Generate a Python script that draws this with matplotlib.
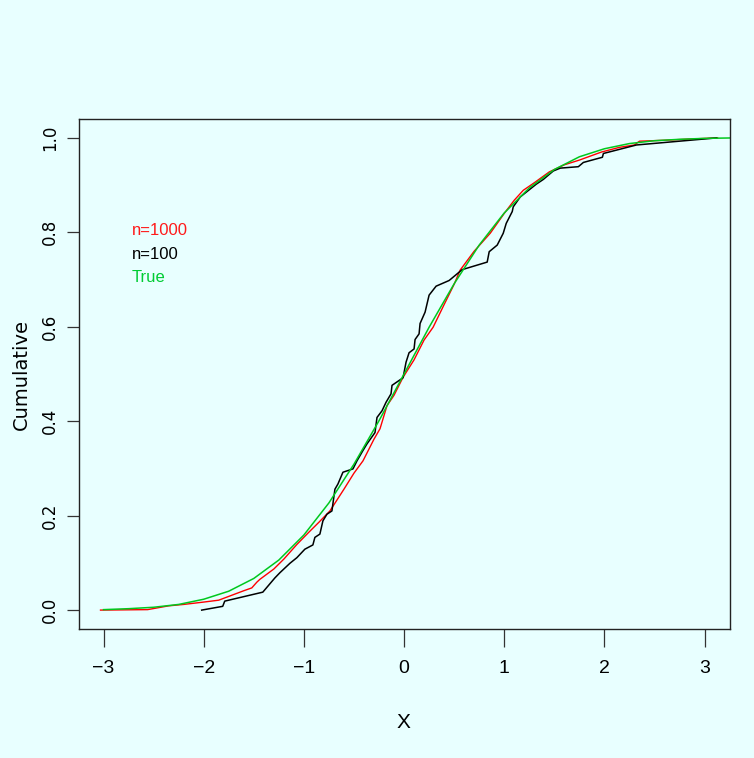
import numpy as np
import matplotlib
matplotlib.use("Agg")
import matplotlib.pyplot as plt

BG = "#E8FFFF"
NARROW = ["Liberation Sans Narrow", "Liberation Sans", "DejaVu Sans"]

# 真实分布
true_x = [-3.0, -2.75, -2.5, -2.25, -2.0, -1.75, -1.5, -1.25, -1.0, -0.75, -0.5, -0.25, 0.0,
          0.25, 0.5, 0.75, 1.0, 1.25, 1.5, 1.75, 2.0, 2.25, 2.5, 2.75, 3.0, 3.3]
true_y = [0.001, 0.003, 0.006, 0.012, 0.023, 0.040, 0.067, 0.106, 0.159, 0.227, 0.309, 0.401, 0.500,
          0.599, 0.691, 0.773, 0.841, 0.894, 0.933, 0.960, 0.977, 0.988, 0.994, 0.997, 0.999, 1.0]

# n=1000 经验分布
n1000_x = [-3.03, -2.8, -2.56, -2.35, -2.2, -2.0, -1.85, -1.7, -1.6, -1.52, -1.47, -1.44, -1.3,
           -1.2, -1.07, -0.95, -0.85, -0.74, -0.6, -0.5, -0.41, -0.3, -0.24, -0.17, -0.1, -0.01,
           0.1, 0.2, 0.29, 0.4, 0.5, 0.56, 0.7, 0.86, 1.0, 1.1, 1.19, 1.3, 1.45, 1.6, 1.75,
           1.97, 2.15, 2.3, 2.35, 2.6, 2.9, 3.13]
n1000_y = [0.0, 0.0005, 0.001, 0.009, 0.012, 0.017, 0.021, 0.033, 0.041, 0.047, 0.059, 0.065,
           0.087, 0.108, 0.139, 0.165, 0.186, 0.21, 0.256, 0.29, 0.316, 0.362, 0.384, 0.433,
           0.455, 0.493, 0.53, 0.572, 0.599, 0.647, 0.69, 0.72, 0.76, 0.798, 0.84, 0.868, 0.889,
           0.905, 0.928, 0.943, 0.953, 0.97, 0.98, 0.985, 0.993, 0.995, 0.998, 1.0]

# n=100 经验分布
n100_x = [-2.02, -1.81, -1.79, -1.41, -1.29, -1.24, -1.14, -1.07, -0.99, -0.91, -0.89, -0.84,
          -0.81, -0.77, -0.72, -0.69, -0.66, -0.61, -0.51, -0.47, -0.41, -0.37, -0.29, -0.27,
          -0.22, -0.18, -0.13, -0.12, -0.01, 0.02, 0.05, 0.10, 0.11, 0.15, 0.16, 0.21, 0.25,
          0.32, 0.45, 0.58, 0.83, 0.85, 0.93, 0.99, 1.02, 1.08, 1.09, 1.16, 1.32, 1.39, 1.49,
          1.56, 1.74, 1.79, 1.98, 1.99, 2.32, 2.64, 3.12]
n100_y = [0.0, 0.008, 0.019, 0.038, 0.068, 0.079, 0.099, 0.111, 0.129, 0.138, 0.154, 0.161,
          0.189, 0.203, 0.21, 0.256, 0.267, 0.292, 0.299, 0.316, 0.338, 0.352, 0.376, 0.408,
          0.422, 0.44, 0.458, 0.476, 0.492, 0.525, 0.545, 0.553, 0.573, 0.585, 0.607, 0.631, 0.667,
          0.686, 0.698, 0.721, 0.737, 0.759, 0.773, 0.798, 0.819, 0.844, 0.854, 0.875, 0.902, 0.912, 0.93,
          0.936, 0.939, 0.948, 0.959, 0.967, 0.985, 0.991, 1.0]

x_ticks = [-3, -2, -1, 0, 1, 2, 3]
y_ticks = [0.0, 0.2, 0.4, 0.6, 0.8, 1.0]
legend_labels = ["n=1000", "n=100", "True"]
legend_colors = ["#FF1A1A", "#000000", "#00CC33"]

fig = plt.figure(figsize=(7.54, 7.58), dpi=100, facecolor=BG)
ax = fig.add_axes([0.1054, 0.1702, 0.8628, 0.6728], facecolor=BG)

ax.plot(n1000_x, n1000_y, color="#FF0000", lw=1.0)
ax.plot(n100_x, n100_y, color="#000000", lw=1.1)
ax.plot(true_x, true_y, color="#00C81E", lw=1.1)

ax.set_xlim(-3.24, 3.254)
ax.set_ylim(-0.040, 1.040)

ax.set_xticks(x_ticks)
ax.set_xticklabels([f"\u2212{abs(v)}" if v < 0 else str(v) for v in x_ticks],
                   family=NARROW, fontsize=14)
ax.set_yticks(y_ticks)
ax.set_yticklabels([f"{v:.1f}" for v in y_ticks], rotation=90, va="center",
                   family="DejaVu Sans", fontsize=12)
ax.tick_params(axis="x", length=13, width=0.9, pad=9, color="#333333")
ax.tick_params(axis="y", length=9, width=0.9, pad=6, color="#333333")
for s in ax.spines.values():
    s.set_linewidth(1.0)
    s.set_color("#222222")

for lab, col, yy in zip(legend_labels, legend_colors, [0.803, 0.753, 0.705]):
    ax.text(-2.72, yy, lab, color=col, ha="left", va="center", family=NARROW, fontsize=12)

fig.text(403 / 754, 1 - 722 / 758, "X", ha="center", va="center", family=NARROW, fontsize=15)
fig.text(21.7 / 754, 1 - 374 / 758, "Cumulative", rotation=90, ha="center", va="center",
         family="DejaVu Sans", fontsize=14)

fig.savefig("out.png", dpi=100, facecolor=BG)
